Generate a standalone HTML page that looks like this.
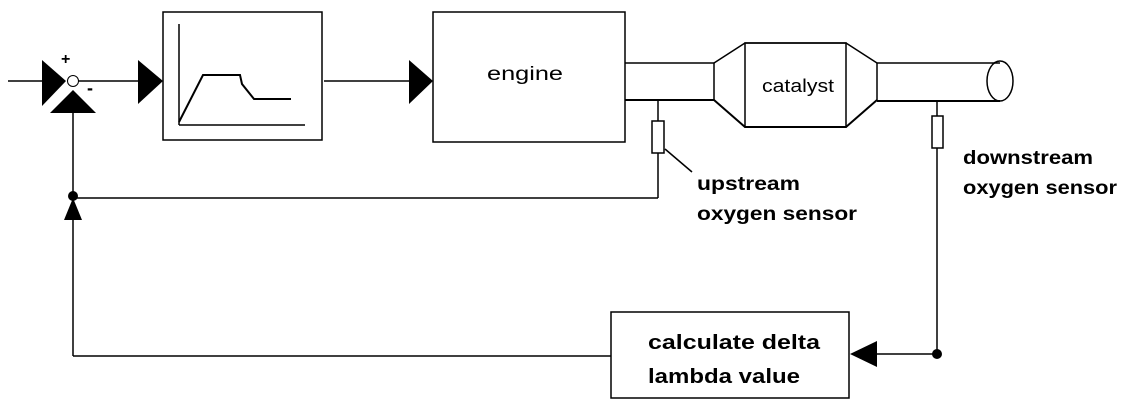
<!DOCTYPE html>
<html><head><style>body{margin:0;background:#fff}svg{display:block}</style></head><body>
<svg width="1136" height="412" viewBox="0 0 1136 412" xmlns="http://www.w3.org/2000/svg" font-family="Liberation Sans, sans-serif" font-weight="bold">
<g stroke="#000" stroke-width="1.5" fill="none">
<line x1="8" y1="81" x2="42" y2="81"/>
<line x1="78" y1="81" x2="138" y2="81"/>
<line x1="73" y1="113" x2="73" y2="356"/>
<line x1="73" y1="198" x2="658" y2="198"/>
<line x1="658" y1="100" x2="658" y2="198"/>
<line x1="324" y1="81" x2="410" y2="81"/>
<rect x="163" y="12" width="159" height="128"/>
<line x1="179" y1="24" x2="179" y2="125"/>
<line x1="179" y1="125" x2="305" y2="125"/>
<polyline points="179,122 203,75 240,75 242,84 254,99 291,99" stroke-width="2"/>
<rect x="433" y="12" width="192" height="130"/>
<line x1="625" y1="63" x2="714" y2="63"/>
<line x1="625" y1="100" x2="714" y2="100" stroke-width="2"/>
<line x1="714" y1="63" x2="714" y2="100"/>
<polyline points="714,63 745,43 846,43 877,63"/>
<polyline points="714,100 745,127 846,127 877,100" stroke-width="2"/>
<rect x="745" y="43" width="101" height="84"/>
<line x1="877" y1="63" x2="877" y2="100"/>
<line x1="877" y1="63" x2="1000" y2="63"/>
<line x1="877" y1="101" x2="1000" y2="101" stroke-width="2"/>
<ellipse cx="1000" cy="81" rx="13" ry="20"/>
<rect x="652" y="121" width="12" height="32" fill="#fff"/>
<line x1="665" y1="149" x2="692" y2="172"/>
<line x1="937" y1="101" x2="937" y2="354"/>
<rect x="932" y="116" width="11" height="32" fill="#fff"/>
<rect x="611" y="312" width="238" height="86"/>
<line x1="73" y1="356" x2="611" y2="356"/>
<line x1="877" y1="354" x2="937" y2="354"/>
</g>
<g fill="#000">
<polygon points="42,60 66,81 42,106"/>
<polygon points="50,113 73,90 96,113"/>
<polygon points="64,220 73,198 82,220"/>
<polygon points="138,60 163,81 138,104"/>
<polygon points="409,60 433,81 409,104"/>
<polygon points="850,354 877,341 877,367"/>
<circle cx="73" cy="196" r="5"/>
<circle cx="937" cy="354" r="5"/>
</g>
<circle cx="73" cy="81" r="5.5" fill="#fff" stroke="#000" stroke-width="1"/>
<text x="61" y="64" font-size="16">+</text>
<text x="87" y="94" font-size="18">-</text>
<text x="487" y="80" font-size="19" font-weight="normal" textLength="76" lengthAdjust="spacingAndGlyphs">engine</text>
<text x="762" y="92" font-size="18" font-weight="normal" textLength="72" lengthAdjust="spacingAndGlyphs">catalyst</text>
<text x="697" y="190" font-size="19" textLength="103" lengthAdjust="spacingAndGlyphs">upstream</text>
<text x="697" y="220" font-size="19" textLength="160" lengthAdjust="spacingAndGlyphs">oxygen sensor</text>
<text x="963" y="164" font-size="19" textLength="130" lengthAdjust="spacingAndGlyphs">downstream</text>
<text x="963" y="194" font-size="19" textLength="154" lengthAdjust="spacingAndGlyphs">oxygen sensor</text>
<text x="648" y="349" font-size="20" textLength="172" lengthAdjust="spacingAndGlyphs">calculate delta</text>
<text x="648" y="383" font-size="20" textLength="152" lengthAdjust="spacingAndGlyphs">lambda value</text>
</svg>
</body></html>
